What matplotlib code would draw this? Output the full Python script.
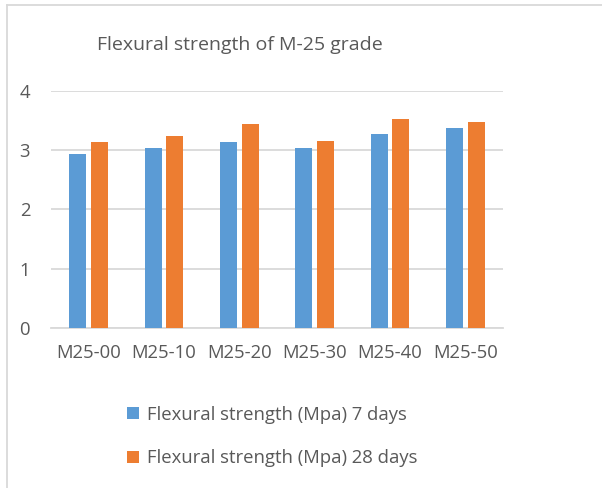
import matplotlib.pyplot as plt
import numpy as np
from matplotlib.lines import Line2D

plt.rcParams['font.family'] = ['Open Sans', 'DejaVu Sans']

# Flexural strength (MPa) by mix
mixes = ['M25-00', 'M25-10', 'M25-20', 'M25-30', 'M25-40', 'M25-50']
days7 = [2.94, 3.03, 3.14, 3.04, 3.27, 3.37]
days28 = [3.14, 3.24, 3.45, 3.16, 3.53, 3.47]
series_names = ['Flexural strength (Mpa) 7 days', 'Flexural strength (Mpa) 28 days']
yticks = [0, 1, 2, 3, 4]

blue = '#5B9BD5'
orange = '#ED7D31'
text_col = '#595959'
grid_col = '#D9D9D9'

W, H = 602, 488
fig = plt.figure(figsize=(W / 100, H / 100), dpi=100)
ax = fig.add_axes([51 / W, 1 - 327.7 / H, 452 / W, (327.7 - 91) / H])

x = np.arange(len(mixes))
bw = 0.225
off = (bw + 0.066) / 2
b1 = ax.bar(x - off, days7, bw, color=blue, zorder=3, label=series_names[0])
b2 = ax.bar(x + off, days28, bw, color=orange, zorder=3, label=series_names[1])

ax.set_xlim(-0.5, len(mixes) - 0.5)
ax.set_ylim(0, 4)
ax.set_yticks(yticks)
ax.set_xticks(x)
ax.set_xticklabels(mixes)
ax.yaxis.grid(True, color=grid_col, linewidth=1.3, zorder=0)
ax.set_axisbelow(True)
for s in ['top', 'right', 'left']:
    ax.spines[s].set_visible(False)
ax.spines['bottom'].set_color(grid_col)
ax.spines['bottom'].set_linewidth(1.3)
ax.tick_params(axis='both', length=0, labelsize=13.3, labelcolor=text_col)
ax.tick_params(axis='y', pad=15)
ax.tick_params(axis='x', pad=12)

fig.text(96.7 / W, 1 - 45 / H, 'Flexural strength of M-25 grade',
         fontsize=14, color=text_col, va='center', ha='left')

leg = fig.legend(handles=[b1, b2], loc='upper left',
                 bbox_to_anchor=(110 / W, 1 - 389 / H), frameon=False,
                 fontsize=13.3, labelcolor=text_col, handlelength=0.65,
                 handleheight=0.65, handletextpad=0.45, labelspacing=1.4)

# chart area border
fig.add_artist(Line2D([6.7 / W, 1], [1 - 5 / H, 1 - 5 / H], color=grid_col,
                      linewidth=1.3, transform=fig.transFigure))
fig.add_artist(Line2D([6.7 / W, 6.7 / W], [0, 1 - 5 / H], color=grid_col,
                      linewidth=1.3, transform=fig.transFigure))

fig.savefig('out.png', dpi=100)
